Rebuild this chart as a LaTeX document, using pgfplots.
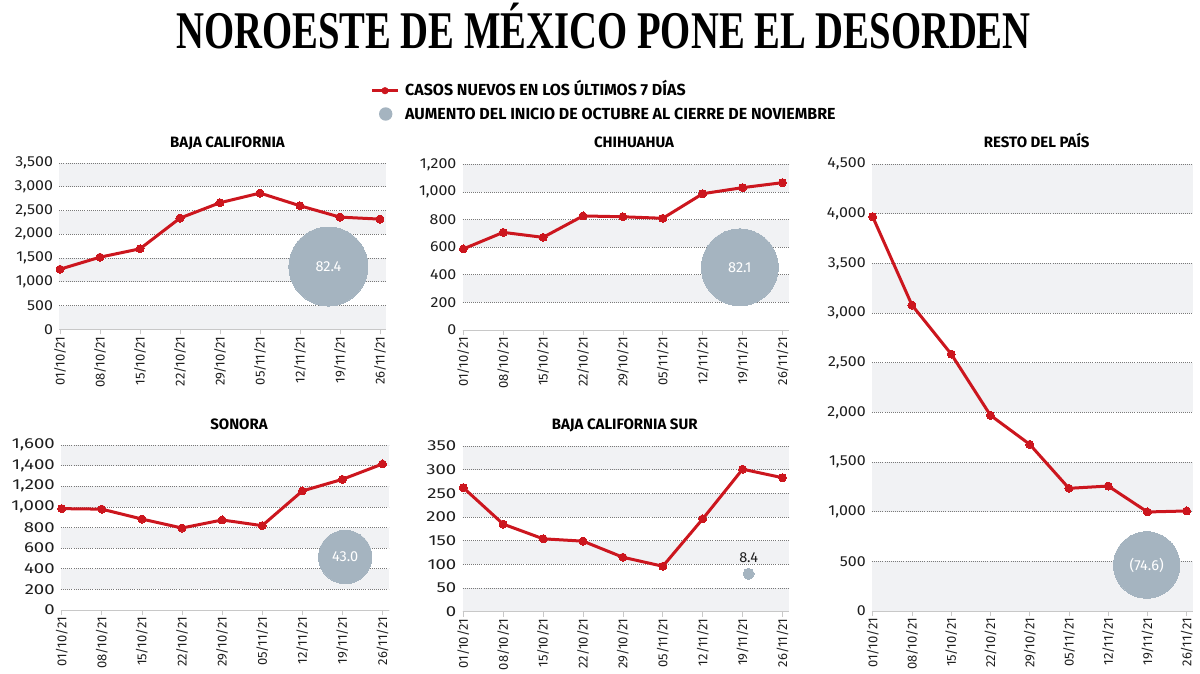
\documentclass[border=0pt]{standalone}
\usepackage{fontspec}
\setmainfont{Fira Sans}
\newfontfamily\titlefont[FakeStretch=0.73]{Liberation Serif}
\newfontfamily\ytopfont[FakeStretch=1.1]{Fira Sans}
\newfontfamily\ybotfont[FakeStretch=1.28]{Fira Sans}
\usepackage{pgfplots}
\pgfplotsset{compat=1.18}

\definecolor{casored}{RGB}{204,22,30}
\definecolor{bubgray}{RGB}{165,180,192}
\definecolor{band}{RGB}{241,242,244}
\definecolor{gridgray}{RGB}{120,120,120}
\definecolor{axgray}{RGB}{200,200,200}
\definecolor{txt}{RGB}{30,30,30}

\newcommand\ticklab{\fontsize{13}{13}\selectfont\color{txt}}
\newcommand\ytop{\ytopfont\fontsize{14.5}{14.5}\selectfont\color{txt}}
\newcommand\ybot{\ybotfont\fontsize{14.5}{14.5}\selectfont\color{txt}}

\pgfplotsset{
  panel/.style={
    scale only axis, clip=false, set layers,
    xmin=-0.02, xmax=8.15,
    axis x line*=bottom, axis y line*=left,
    y axis line style={draw=none},
    x axis line style={draw=axgray, line width=0.8pt},
    xtick={0,...,8},
    xticklabels={01/10/21,08/10/21,15/10/21,22/10/21,29/10/21,05/11/21,12/11/21,19/11/21,26/11/21},
    tick align=outside, major tick length=5pt,
    xtick style={draw=axgray, line width=0.8pt},
    ytick style={draw=none},
    xticklabel style={rotate=90, anchor=east, font=\ticklab, inner sep=2pt},
    yticklabel style={font=\ytop, inner sep=1pt},
    ymajorgrids,
    major grid style={draw=gridgray, line width=0.7pt, dash pattern=on 0.7pt off 1.4pt},
    scaled y ticks=false,
    /pgf/number format/.cd, 1000 sep={,}, assume math mode=true,
  },
  casos/.style={casored, line width=3pt, mark=*, mark size=4pt,
    mark options={fill=casored, draw=casored, line width=0pt}},
  bubble/.style={bubgray, only marks, mark=*, mark options={fill=bubgray, draw=bubgray, line width=0pt},
    point meta=explicit symbolic, nodes near coords,
    nodes near coords align={center},
    nodes near coords style={anchor=center, text=white, font=\fontsize{14.5}{14.5}\selectfont}},
}

\begin{document}
\begin{tikzpicture}

% titulo
\node[anchor=base, inner sep=0, font=\titlefont\bfseries\fontsize{53}{53}\selectfont]
  at (603.5pt,-48.3pt) {NOROESTE DE MÉXICO PONE EL DESORDEN};

% leyenda
\draw[casored, line width=3pt] (372pt,-90.7pt) -- (398pt,-90.7pt);
\fill[casored] (385pt,-90.7pt) circle (3.6pt);
\fill[bubgray] (385.7pt,-114pt) circle (6.7pt);
\node[anchor=base west, inner sep=0, font=\bfseries\fontsize{16}{16}\selectfont]
  at (405pt,-96pt) {CASOS NUEVOS EN LOS ÚLTIMOS 7 DÍAS};
\node[anchor=base west, inner sep=0, font=\bfseries\fontsize{16}{16}\selectfont]
  at (405pt,-119.3pt) {AUMENTO DEL INICIO DE OCTUBRE AL CIERRE DE NOVIEMBRE};

% titulos de paneles
\tikzset{ptitle/.style={anchor=base, inner sep=0, font=\bfseries\fontsize{15}{15}\selectfont}}
\node[ptitle] at (227.5pt,-147.5pt) {BAJA CALIFORNIA};
\node[ptitle] at (634pt,-147.5pt) {CHIHUAHUA};
\node[ptitle] at (1036.7pt,-147.5pt) {RESTO DEL PAÍS};
\node[ptitle] at (239pt,-429.5pt) {SONORA};
\node[ptitle] at (624.7pt,-429.5pt) {BAJA CALIFORNIA SUR};

% Baja California
\begin{axis}[panel, at={(59.2pt,-329.3pt)}, anchor=south west,
  width=326.8pt, height=166.3pt, ymin=0, ymax=3500, ytick={0,500,...,3500}]
\begin{pgfonlayer}{axis background}
\fill[band] (axis cs:-0.02,3000) rectangle (axis cs:8.15,3500);
\fill[band] (axis cs:-0.02,2000) rectangle (axis cs:8.15,2500);
\fill[band] (axis cs:-0.02,1000) rectangle (axis cs:8.15,1500);
\fill[band] (axis cs:-0.02,0) rectangle (axis cs:8.15,500);
\end{pgfonlayer}
\addplot[casos] coordinates {(0,1265) (1,1518) (2,1694) (3,2340) (4,2664) (5,2867) (6,2600) (7,2361) (8,2319)};
\addplot[bubble, mark size=39.5pt] coordinates {(6.71,1321) [82.4]};
\end{axis}

% Chihuahua
\begin{axis}[panel, at={(462.5pt,-330pt)}, anchor=south west,
  width=326pt, height=165.7pt, ymin=0, ymax=1200, ytick={0,200,...,1200}]
\begin{pgfonlayer}{axis background}
\fill[band] (axis cs:-0.02,1000) rectangle (axis cs:8.15,1200);
\fill[band] (axis cs:-0.02,600) rectangle (axis cs:8.15,800);
\fill[band] (axis cs:-0.02,200) rectangle (axis cs:8.15,400);
\end{pgfonlayer}
\addplot[casos] coordinates {(0,587) (1,707) (2,671) (3,826) (4,820) (5,809) (6,987) (7,1031) (8,1067)};
\addplot[bubble, mark size=38.4pt] coordinates {(6.93,454) [82.1]};
\end{axis}

% Resto del pais
\begin{axis}[panel, at={(871.9pt,-611pt)}, anchor=south west,
  width=320.7pt, height=447pt, ymin=0, ymax=4500, ytick={0,500,...,4500}]
\begin{pgfonlayer}{axis background}
\fill[band] (axis cs:-0.02,4000) rectangle (axis cs:8.15,4500);
\fill[band] (axis cs:-0.02,3000) rectangle (axis cs:8.15,3500);
\fill[band] (axis cs:-0.02,2000) rectangle (axis cs:8.15,2500);
\fill[band] (axis cs:-0.02,1000) rectangle (axis cs:8.15,1500);
\fill[band] (axis cs:-0.02,0) rectangle (axis cs:8.15,500);
\end{pgfonlayer}
\addplot[casos] coordinates {(0,3969) (1,3080) (2,2587) (3,1970) (4,1678) (5,1235) (6,1258) (7,997) (8,1007)};
\addplot[bubble, mark size=33.2pt] coordinates {(6.98,463) [(74.6)]};
\end{axis}

% Sonora
\begin{axis}[panel, at={(60.9pt,-610pt)}, anchor=south west,
  width=327.6pt, height=165pt, ymin=0, ymax=1600, ytick={0,200,...,1600},
  yticklabel style={font=\ybot}]
\begin{pgfonlayer}{axis background}
\fill[band] (axis cs:-0.02,1400) rectangle (axis cs:8.15,1600);
\fill[band] (axis cs:-0.02,1000) rectangle (axis cs:8.15,1200);
\fill[band] (axis cs:-0.02,600) rectangle (axis cs:8.15,800);
\fill[band] (axis cs:-0.02,200) rectangle (axis cs:8.15,400);
\end{pgfonlayer}
\addplot[casos] coordinates {(0,983) (1,978) (2,882) (3,795) (4,873) (5,818) (6,1154) (7,1267) (8,1416)};
\addplot[bubble, mark size=26.7pt] coordinates {(7.07,514) [43.0]};
\end{axis}

% Baja California Sur
\begin{axis}[panel, at={(462.5pt,-611.7pt)}, anchor=south west,
  width=326pt, height=165.7pt, ymin=0, ymax=350, ytick={0,50,...,350},
  yticklabel style={font=\ybot}]
\begin{pgfonlayer}{axis background}
\fill[band] (axis cs:-0.02,300) rectangle (axis cs:8.15,350);
\fill[band] (axis cs:-0.02,200) rectangle (axis cs:8.15,250);
\fill[band] (axis cs:-0.02,100) rectangle (axis cs:8.15,150);
\fill[band] (axis cs:-0.02,0) rectangle (axis cs:8.15,50);
\end{pgfonlayer}
\addplot[casos] coordinates {(0,262) (1,185) (2,154) (3,149) (4,115) (5,96) (6,196) (7,301) (8,283)};
\addplot[bubble, mark size=5.5pt,
  nodes near coords style={anchor=south, text=txt, inner sep=0pt, yshift=11pt}]
  coordinates {(7.15,80) [8.4]};
\end{axis}

\pgfresetboundingbox
\path[use as bounding box] (0pt,0pt) rectangle (1200pt,-674pt);
\end{tikzpicture}
\end{document}
